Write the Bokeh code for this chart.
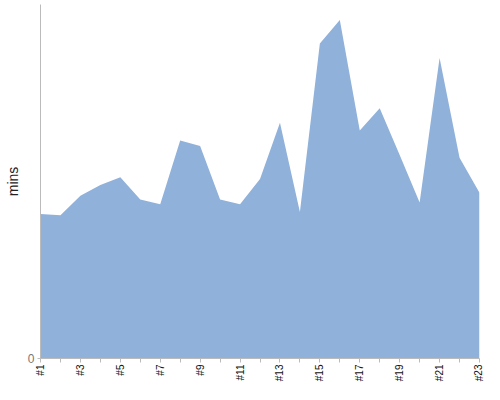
from bokeh.plotting import figure
from bokeh.models import Range1d, FixedTicker
from bokeh.embed import file_html
from bokeh.resources import INLINE

categories = ["#%d" % i for i in range(1, 24)]
positions = list(range(1, 24))
mins = [40.8, 40.5, 46.0, 49.0, 51.2, 44.9, 43.6, 61.6, 60.0, 44.9, 43.6, 50.7,
        66.6, 41.4, 89.0, 95.6, 64.4, 70.7, 57.5, 44.1, 84.9, 56.7, 46.8]

p = figure(width=484, height=384, output_backend="svg", toolbar_location=None,
           x_range=Range1d(1, 23), y_range=Range1d(0, 100),
           min_border_left=40, min_border_right=5, min_border_top=4, min_border_bottom=0)

p.varea(x=positions, y1=0, y2=mins, fill_color="#8FB1DA", fill_alpha=1.0)

p.grid.visible = False
p.outline_line_color = None
p.background_fill_color = "white"

xa = p.xaxis[0]
xa.ticker = FixedTicker(ticks=positions)
xa.major_label_overrides = {i: (categories[i - 1] if i % 2 == 1 else "") for i in positions}
xa.major_label_orientation = 1.5708
xa.major_label_text_font = "Liberation Sans"
xa.major_label_text_font_size = "10px"
xa.major_label_text_color = "#111111"
xa.major_label_standoff = 2
xa.axis_line_color = "#BBBBBB"
xa.major_tick_line_color = "#BBBBBB"
xa.major_tick_out = 4
xa.major_tick_in = 0
xa.minor_tick_line_color = None

ya = p.yaxis[0]
ya.ticker = FixedTicker(ticks=[0])
ya.axis_label = "mins"
ya.axis_label_text_font = "Liberation Sans"
ya.axis_label_text_font_size = "14px"
ya.axis_label_text_font_style = "normal"
ya.axis_label_text_color = "#222222"
ya.axis_label_standoff = 4
ya.major_label_text_font = "Liberation Sans"
ya.major_label_text_font_size = "12px"
ya.major_label_text_color = "#777777"
ya.major_label_standoff = 3
ya.axis_line_color = "#BBBBBB"
ya.major_tick_line_color = "#BBBBBB"
ya.major_tick_out = 3
ya.major_tick_in = 0
ya.minor_tick_line_color = None

open("out.html", "w").write(file_html(p, INLINE))
